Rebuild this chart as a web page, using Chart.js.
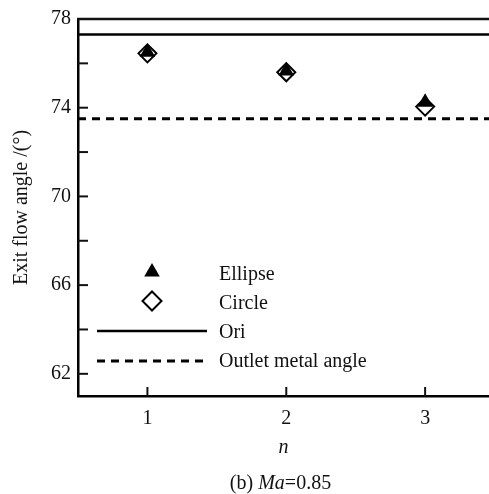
<!DOCTYPE html>
<html>
<head>
<meta charset="utf-8">
<script src="https://cdn.jsdelivr.net/npm/chart.js@4"></script>
<style>
  html, body { margin: 0; padding: 0; background: #fff; overflow: hidden; }
  canvas { display: block; }
</style>
</head>
<body>
<canvas id="exit-angle-chart" width="489" height="494"></canvas>
<script>
// valores (b) Ma=0.85
const nValues = [1, 2, 3];
const ellipseAngle = [76.5, 75.65, 74.25];
const circleAngle = [76.45, 75.6, 74.05];
const oriAngle = 77.3;
const outletMetalAngle = 73.5;
const xRange = [0.5, 3.46];
const yRange = [61, 78];
const yTicks = [62, 64, 66, 68, 70, 72, 74, 76, 78];
const yLabelTicks = [62, 66, 70, 74, 78];

const serif = "'Liberation Serif', 'DejaVu Serif', serif";
const ink = "#111";

const toPoints = (ys) => nValues.map((n, i) => ({ x: n, y: ys[i] }));
const flatLine = (y) => xRange.map(x => ({ x: x, y: y }));

// ticks para dentro, linha de cima, legenda e legenda da figura
const frameAndLegend = {
  id: "frameAndLegend",
  afterDraw(chart) {
    const c = chart.ctx;
    const area = chart.chartArea;
    const xs = chart.scales.x;
    const ys = chart.scales.y;

    c.save();
    c.strokeStyle = ink;
    c.lineWidth = 2;
    xs.ticks.forEach(t => {
      const px = xs.getPixelForValue(t.value);
      c.beginPath();
      c.moveTo(px, area.bottom);
      c.lineTo(px, area.bottom - 9);
      c.stroke();
    });
    ys.ticks.forEach(t => {
      const py = ys.getPixelForValue(t.value);
      c.beginPath();
      c.moveTo(area.left, py);
      c.lineTo(area.left + 10, py);
      c.stroke();
    });

    // linha superior do quadro
    c.lineWidth = 2.3;
    c.beginPath();
    c.moveTo(area.left - 1, area.top);
    c.lineTo(area.right, area.top);
    c.stroke();

    // legenda
    const lx = area.left + 74;
    const tx = area.left + 141;
    c.fillStyle = "#000";
    c.beginPath();
    const r = 9;
    const ty = area.top + 253;
    c.moveTo(lx, ty - r);
    c.lineTo(lx + r * Math.sin(2 * Math.PI / 3), ty + r / 2);
    c.lineTo(lx - r * Math.sin(2 * Math.PI / 3), ty + r / 2);
    c.closePath();
    c.fill();

    const dy = area.top + 282;
    const d = 9.5;
    c.lineWidth = 2;
    c.strokeStyle = "#000";
    c.beginPath();
    c.moveTo(lx, dy - d);
    c.lineTo(lx + d, dy);
    c.lineTo(lx, dy + d);
    c.lineTo(lx - d, dy);
    c.closePath();
    c.stroke();

    c.lineWidth = 2.5;
    c.beginPath();
    c.moveTo(area.left + 19, area.top + 312);
    c.lineTo(area.left + 129, area.top + 312);
    c.stroke();

    c.lineWidth = 3;
    c.setLineDash([8, 6]);
    c.beginPath();
    c.moveTo(area.left + 19, area.top + 342);
    c.lineTo(area.left + 129, area.top + 342);
    c.stroke();
    c.setLineDash([]);

    c.fillStyle = ink;
    c.font = "20px " + serif;
    c.textAlign = "left";
    c.textBaseline = "middle";
    c.fillText("Ellipse", tx, area.top + 256);
    c.fillText("Circle", tx, area.top + 285);
    c.fillText("Ori", tx, area.top + 314);
    c.fillText("Outlet metal angle", tx, area.top + 343);

    // legenda da figura: (b) Ma=0.85
    const parts = [
      { text: "(b) ", font: "20px " + serif },
      { text: "Ma", font: "italic 20px " + serif },
      { text: "=0.85", font: "20px " + serif }
    ];
    let total = 0;
    parts.forEach(p => { c.font = p.font; p.w = c.measureText(p.text).width; total += p.w; });
    let cx = (area.left + area.right) / 2 - 3 - total / 2;
    parts.forEach(p => {
      c.font = p.font;
      c.fillText(p.text, cx, chart.height - 10);
      cx += p.w;
    });
    c.restore();
  }
};

new Chart(document.getElementById("exit-angle-chart"), {
  type: "scatter",
  data: {
    datasets: [
      {
        label: "Ellipse",
        data: toPoints(ellipseAngle),
        pointStyle: "triangle",
        pointRadius: 9,
        backgroundColor: "#000",
        borderColor: "#000",
        borderWidth: 0,
        order: 0
      },
      {
        label: "Circle",
        data: toPoints(circleAngle),
        pointStyle: "rectRot",
        pointRadius: 9,
        backgroundColor: "rgba(255,255,255,0)",
        borderColor: "#000",
        borderWidth: 2,
        order: 1
      },
      {
        label: "Ori",
        type: "line",
        data: flatLine(oriAngle),
        borderColor: "#000",
        borderWidth: 2.5,
        pointRadius: 0,
        order: 2
      },
      {
        label: "Outlet metal angle",
        type: "line",
        data: flatLine(outletMetalAngle),
        borderColor: "#000",
        borderWidth: 3,
        borderDash: [8, 6],
        pointRadius: 0,
        order: 3
      }
    ]
  },
  options: {
    responsive: false,
    animation: false,
    devicePixelRatio: 1,
    layout: { autoPadding: false, padding: { top: 19, right: 0, bottom: 38, left: 0 } },
    plugins: {
      legend: { display: false },
      tooltip: { enabled: false }
    },
    scales: {
      x: {
        type: "linear",
        min: xRange[0],
        max: xRange[1],
        afterBuildTicks: (scale) => { scale.ticks = nValues.map(v => ({ value: v })); },
        afterFit: (scale) => {
          scale.height = 60;
          scale.paddingLeft = 0;
          scale.paddingRight = 0;
        },
        grid: { display: false, drawTicks: false },
        border: { display: true, color: "#000", width: 2.5 },
        ticks: {
          color: ink,
          padding: 11,
          maxRotation: 0,
          font: { family: serif, size: 20 }
        },
        title: {
          display: true,
          text: "n",
          color: ink,
          padding: { top: 0, bottom: -4 },
          font: { family: serif, size: 20, style: "italic" }
        }
      },
      y: {
        min: yRange[0],
        max: yRange[1],
        afterBuildTicks: (scale) => { scale.ticks = yTicks.map(v => ({ value: v })); },
        afterFit: (scale) => {
          scale.width = 78;
          scale.paddingTop = 0;
          scale.paddingBottom = 0;
        },
        grid: { display: false, drawTicks: false },
        border: { display: true, color: "#000", width: 2.5 },
        ticks: {
          color: ink,
          padding: 7,
          font: { family: serif, size: 20 },
          callback: (v) => yLabelTicks.includes(v) ? String(v) : ""
        },
        title: {
          display: true,
          text: "Exit flow angle /(°)",
          color: ink,
          padding: { top: 10, bottom: 0 },
          font: { family: serif, size: 20 }
        }
      }
    }
  },
  plugins: [frameAndLegend]
});
</script>
</body>
</html>
